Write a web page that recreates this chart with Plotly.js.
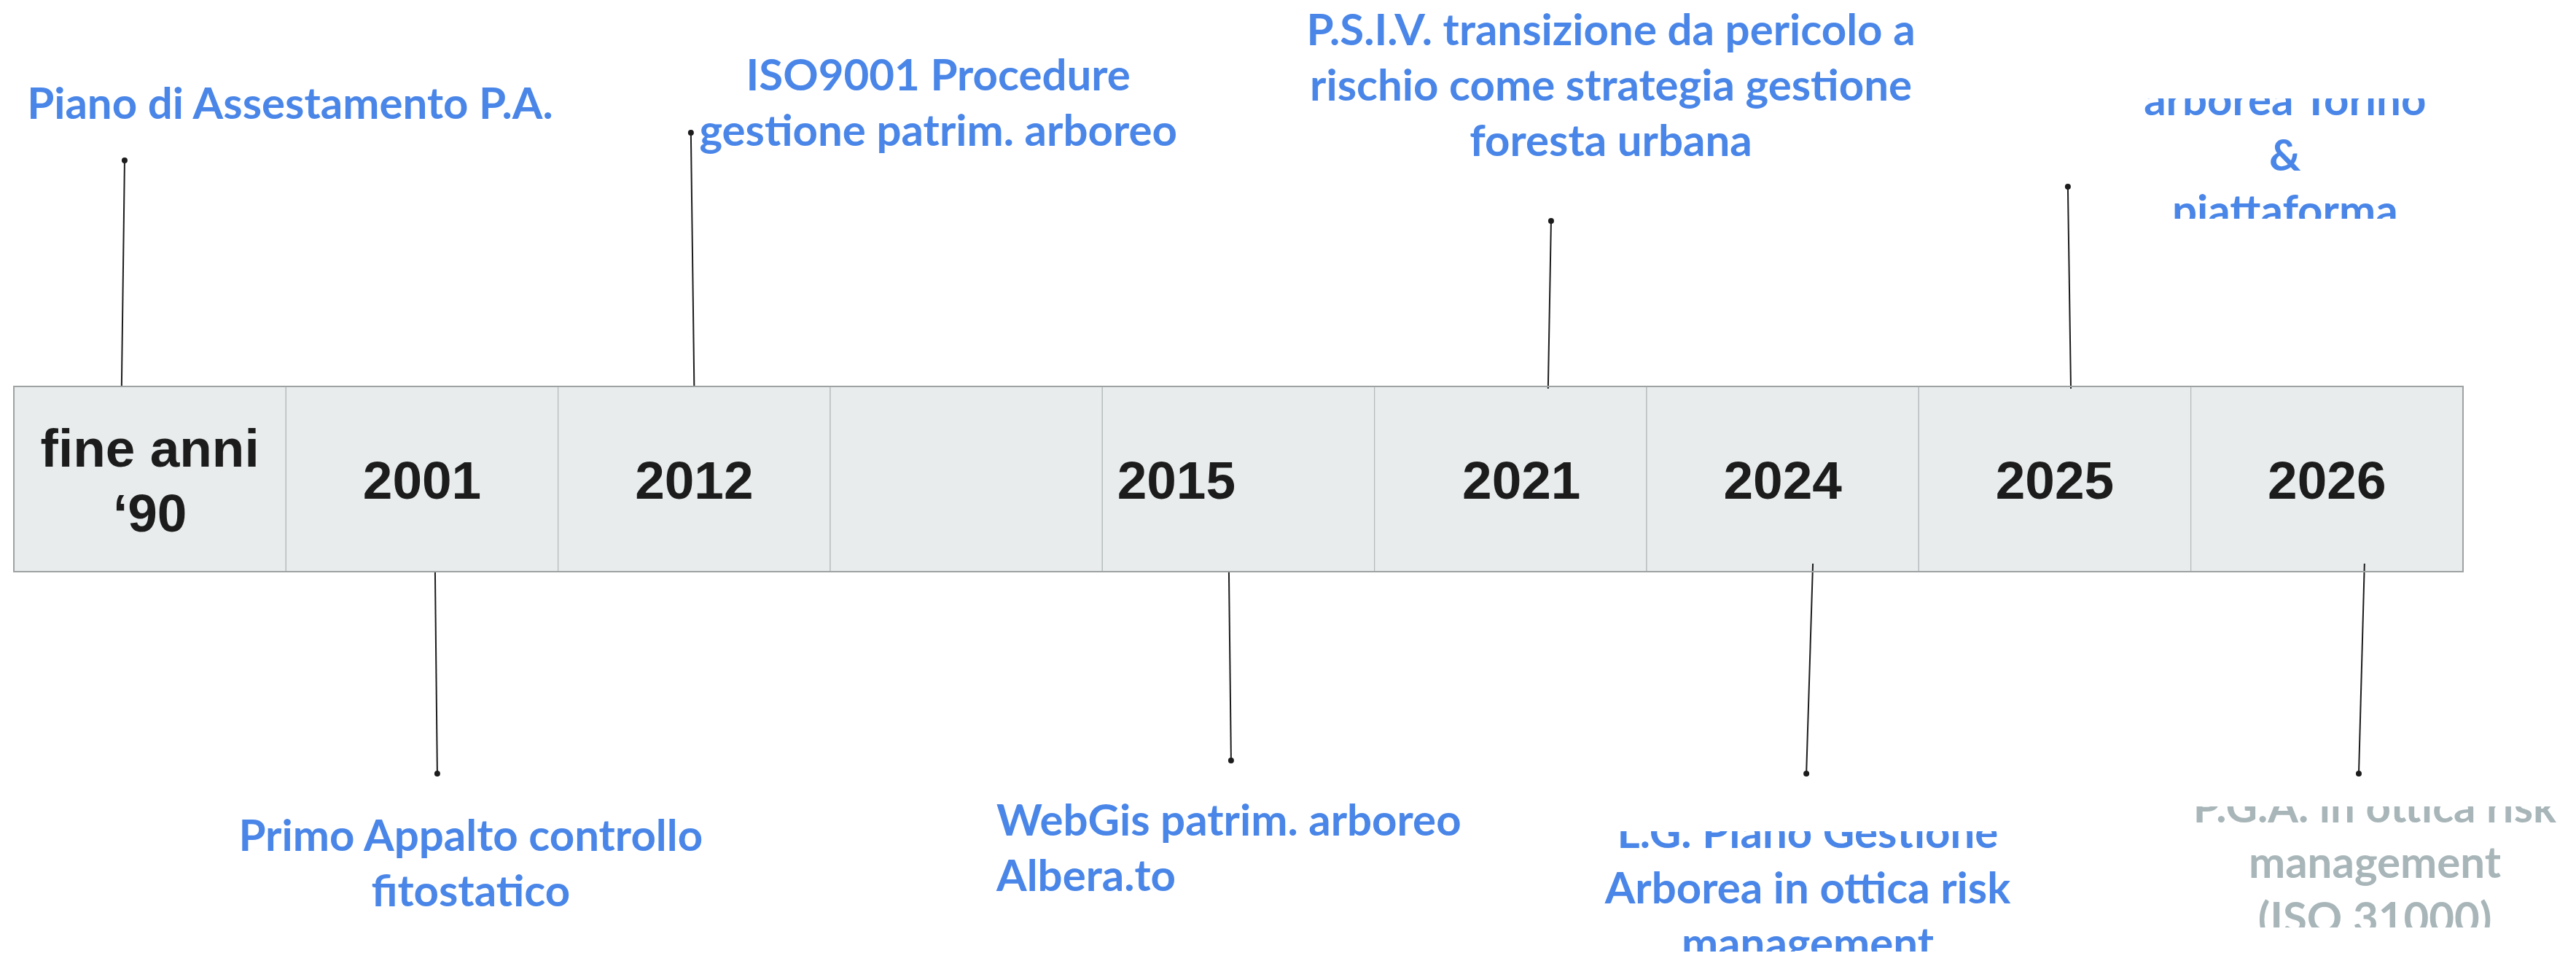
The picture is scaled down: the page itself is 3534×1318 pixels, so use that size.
<!DOCTYPE html>
<html><head><meta charset="utf-8">
<script src="https://cdn.plot.ly/plotly-3.0.1.min.js"></script>
<style>html,body{margin:0;padding:0;background:#fff;overflow:hidden}#chart{width:3534px;height:1318px}</style>
</head><body><div id="chart"></div>
<script>
// ---------------- data ----------------
const periods = ["fine anni<br>‘90", "2001", "2012", "", "2015", "2021", "2024", "2025", "2026"];
const eventTexts = [
  "Piano di Assestamento P.A.",
  "Primo Appalto controllo<br>fitostatico",
  "ISO9001 Procedure<br>gestione patrim. arboreo",
  "WebGis patrim. arboreo<br>Albera.to",
  "P.S.I.V. transizione da pericolo a<br>rischio come strategia gestione<br>foresta urbana",
  "L.G. Piano Gestione<br>Arborea in ottica risk<br>management",
  "arborea Torino<br>&<br>piattaforma",
  "P.G.A. in ottica risk<br>management<br>(ISO 31000)"
];
const eventPeriod = [0, 1, 2, 4, 5, 6, 7, 8];
const eventSide = ["above", "below", "above", "below", "above", "below", "above", "below"];
const eventPlanned = [false, false, false, false, false, false, false, true];

// ---------------- geometry / style ----------------
const W = 3534, H = 1318;
const bandLeft = 19, cellW = 373.33, bandTop = 530, bandBottom = 784;
const yearFont = 73, yearBase = 684, yearLineGap = 89;
const labelFont = 60, labelLineGap = 76;
const blue = "#4a86e8", grey = "#a9b6b9", ink = "#1c1c1c";
const periodNudge = [0, 0, 0, 0, -0.228, 0.04, 0, 0, 0];
// stem: [dx at band, dx at dot] in cell units, dot y, band-end y
const stemGeom = [
  [-0.104, -0.093, 220, 530], [0.048, 0.056, 1061, 784], [0.0, -0.012, 182, 530], [-0.035, -0.027, 1043, 784],
  [0.138, 0.149, 303, 533], [0.111, 0.087, 1061, 773], [0.059, 0.048, 256, 533], [0.138, 0.117, 1061, 773]
];
// label: [dx (cells), first baseline y, align]
const labelGeom = [
  [0.515, 163, "c"], [0.179, 1167, "c"], [0.897, 124, "c"], [-0.889, 1146, "l"],
  [0.369, 62, "c"], [0.092, 1163, "c"], [0.846, 158, "c"], [0.176, 1128, "c"]
];
// visible window of clipped text boxes: [event, top cut, bottom cut]
const clipBoxes = [[5, 1140, 1305], [6, 135, 300], [7, 1106, 1272]];

const idx = periods.map((_, i) => i);
const xr = [-0.5 - bandLeft / cellW, -0.5 + (W - bandLeft) / cellW];

const traces = [];
// band cells
traces.push({
  type: "bar", x: idx, y: idx.map(() => bandBottom - bandTop), base: idx.map(() => bandTop),
  width: 1, marker: {color: "#e8ecec", line: {color: "#b5b9ba", width: 1.2}},
  hoverinfo: "skip", showlegend: false
});
// period labels
{
  const xs = [], ys = [], ts = [];
  periods.forEach((p, i) => {
    const lines = p.split("<br>");
    lines.forEach((ln, k) => {
      xs.push(i + periodNudge[i]);
      ys.push(yearBase + (k - (lines.length - 1) / 2) * yearLineGap - 0.25 * yearFont);
      ts.push(ln);
    });
  });
  traces.push({type: "scatter", mode: "text", x: xs, y: ys, text: ts, textposition: "middle center",
    textfont: {family: "Liberation Sans, Arial, sans-serif", size: yearFont, color: ink, weight: "bold"},
    cliponaxis: false, hoverinfo: "skip", showlegend: false});
}
// stems
{
  const xs = [], ys = [], dx = [], dy = [];
  eventPeriod.forEach((p, e) => {
    const g = stemGeom[e];
    xs.push(p + g[0], p + g[1], null);
    ys.push(g[3], g[2], null);
    dx.push(p + g[1]); dy.push(g[2]);
  });
  traces.push({type: "scatter", mode: "lines", x: xs, y: ys, line: {color: ink, width: 2},
    hoverinfo: "skip", showlegend: false, cliponaxis: false});
  traces.push({type: "scatter", mode: "markers", x: dx, y: dy, marker: {color: ink, size: 8},
    hoverinfo: "skip", showlegend: false, cliponaxis: false});
}
// event labels
{
  const xs = [], ys = [], ts = [], pos = [], cols = [];
  eventTexts.forEach((t, e) => {
    const g = labelGeom[e];
    t.split("<br>").forEach((ln, k) => {
      xs.push(eventPeriod[e] + g[0]);
      ys.push(g[1] + k * labelLineGap - 0.25 * labelFont);
      ts.push(ln);
      pos.push(g[2] === "l" ? "middle right" : "middle center");
      cols.push(eventPlanned[e] ? grey : blue);
    });
  });
  traces.push({type: "scatter", mode: "text", x: xs, y: ys, text: ts, textposition: pos,
    textfont: {family: "Lato, Carlito, sans-serif", size: labelFont, color: cols, weight: "bold"},
    cliponaxis: false, hoverinfo: "skip", showlegend: false});
}

const shapes = [{
  type: "rect", xref: "x", yref: "y", x0: -0.5, x1: periods.length - 0.5, y0: bandTop, y1: bandBottom,
  line: {color: "#9ea2a2", width: 2}, fillcolor: "rgba(0,0,0,0)", layer: "above"
}];
clipBoxes.forEach(([e, top, bot]) => {
  const cx = eventPeriod[e] + labelGeom[e][0];
  shapes.push({type: "rect", xref: "x", yref: "y", x0: cx - 0.75, x1: cx + 0.75, y0: top - 40, y1: top,
    fillcolor: "#ffffff", line: {width: 0}, layer: "above"});
  shapes.push({type: "rect", xref: "x", yref: "y", x0: cx - 0.75, x1: cx + 0.75, y0: bot, y1: bot + 60,
    fillcolor: "#ffffff", line: {width: 0}, layer: "above"});
});

const layout = {
  width: W, height: H, margin: {l: 0, r: 0, t: 0, b: 0, pad: 0},
  paper_bgcolor: "#ffffff", plot_bgcolor: "#ffffff",
  xaxis: {range: xr, visible: false, fixedrange: true},
  yaxis: {range: [H, 0], visible: false, fixedrange: true},
  showlegend: false, hovermode: false, barmode: "overlay", bargap: 0,
  shapes: shapes
};
Plotly.newPlot("chart", traces, layout, {staticPlot: true, displayModeBar: false});
</script></body></html>
